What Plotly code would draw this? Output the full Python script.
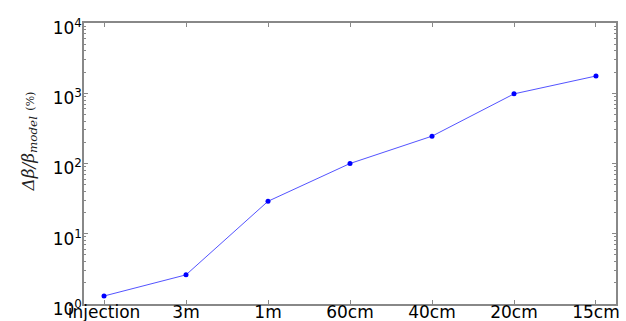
import plotly.graph_objects as go

categories = ["injection", "3m", "1m", "60cm", "40cm", "20cm", "15cm"]
beta_beat = [1.3, 2.6, 29, 100, 245, 980, 1760]
y_tick_vals = [1, 10, 100, 1000, 10000]
y_tick_text = ["10<sup>0</sup>", "10<sup>1</sup>", "10<sup>2</sup>", "10<sup>3</sup>", "10<sup>4</sup>"]

x_idx = list(range(len(categories)))

fig = go.Figure()
fig.add_trace(go.Scatter(
    x=x_idx, y=beta_beat, mode="lines+markers",
    line=dict(color="rgba(40,40,255,0.8)", width=1),
    marker=dict(color="#0000ff", size=5),
    showlegend=False, cliponaxis=False,
))

axis_common = dict(
    showline=True, linecolor="#888888", linewidth=1.5, mirror="allticks",
    ticks="inside", tickcolor="#888888", ticklen=4, tickwidth=1,
    showgrid=False, zeroline=False, automargin=False,
    tickfont=dict(family="DejaVu Sans", size=17, color="black"),
)

fig.update_xaxes(
    range=[-0.244, 6.244], tickvals=x_idx, ticktext=categories,
    ticklabelstandoff=-8,
    **axis_common,
)
fig.update_yaxes(
    type="log", range=[0, 4], tickvals=y_tick_vals, ticktext=y_tick_text,
    minor=dict(ticks="inside", ticklen=2, tickcolor="#888888",
               tickvals=[m * 10**e for e in range(4) for m in range(2, 10)]),
    ticklabelstandoff=-3, ticklabelshift=5,
    **axis_common,
)

fig.add_annotation(
    xref="paper", yref="paper", x=-0.102, y=0.577, xanchor="center", yanchor="middle",
    textangle=-90, showarrow=False,
    text="<i>Δβ/β<sub>model</sub></i> <span style='font-size:11px'>(%)</span>",
    font=dict(family="DejaVu Serif", size=17, color="#222222"),
)

fig.update_layout(
    width=626, height=321,
    margin=dict(l=84, r=10, t=23, b=17),
    paper_bgcolor="white", plot_bgcolor="white",
)

fig.write_html("out.html", config={"displayModeBar": False},
               post_script="document.body.style.margin='0';")
